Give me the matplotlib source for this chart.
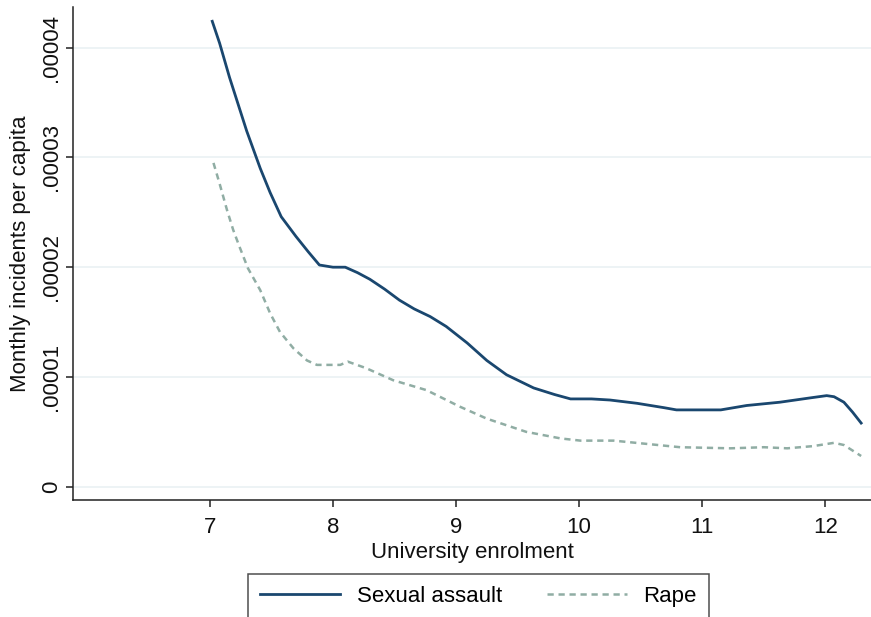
import matplotlib
matplotlib.use("Agg")
import matplotlib.pyplot as plt
from matplotlib.lines import Line2D

# Monthly incidents per capita (x1e-5) against university enrolment
sa_x = [7.02, 7.08, 7.16, 7.30, 7.41, 7.49, 7.58, 7.70, 7.80, 7.89, 8.00, 8.10,
        8.20, 8.30, 8.42, 8.54, 8.66, 8.79, 8.92, 9.09, 9.25, 9.41, 9.63, 9.80,
        9.93, 10.10, 10.25, 10.47, 10.69, 10.79, 11.00, 11.15, 11.36, 11.63,
        11.88, 12.01, 12.07, 12.15, 12.22, 12.29]
sa_y = [4.24, 4.04, 3.73, 3.24, 2.90, 2.68, 2.46, 2.28, 2.14, 2.02, 2.00, 2.00,
        1.95, 1.89, 1.80, 1.70, 1.62, 1.55, 1.46, 1.31, 1.15, 1.02, 0.90, 0.84,
        0.80, 0.80, 0.79, 0.76, 0.72, 0.70, 0.70, 0.70, 0.74, 0.77,
        0.81, 0.83, 0.82, 0.77, 0.68, 0.58]

rape_x = [7.03, 7.08, 7.14, 7.19, 7.24, 7.31, 7.41, 7.49, 7.57, 7.68, 7.79,
          7.87, 7.96, 8.06, 8.12, 8.27, 8.49, 8.76, 9.03, 9.25, 9.57, 9.85,
          10.01, 10.28, 10.55, 10.82, 11.23, 11.50, 11.69, 11.90, 12.07,
          12.15, 12.29]
rape_y = [2.95, 2.76, 2.52, 2.34, 2.19, 1.99, 1.79, 1.58, 1.41, 1.26, 1.15,
          1.11, 1.11, 1.11, 1.14, 1.08, 0.97, 0.88, 0.73, 0.62, 0.50, 0.44,
          0.42, 0.42, 0.39, 0.36, 0.35, 0.36, 0.35, 0.37, 0.40,
          0.38, 0.28]

x_ticks = [7, 8, 9, 10, 11, 12]
y_ticks = [0, 1, 2, 3, 4]
y_tick_labels = ["0", ".00001", ".00002", ".00003", ".00004"]
series_names = ["Sexual assault", "Rape"]

SCALE = 1e-5
NAVY = "#1a476f"
SAGE = "#90ada4"
GRID = "#eaf1f3"
FS = 16

plt.rcParams["font.family"] = ["Liberation Sans", "DejaVu Sans"]

fig = plt.figure(figsize=(8.71, 6.17), dpi=100)
ax = fig.add_axes([0.0838, 0.1896, 0.9162, 0.7990])

ax.plot(sa_x, [v * SCALE for v in sa_y], color=NAVY, lw=2.0,
        solid_joinstyle="round", label=series_names[0])
ax.plot(rape_x, [v * SCALE for v in rape_y], color=SAGE, lw=1.8,
        dashes=(2.5, 1.9), label=series_names[1])

ax.set_xlim(5.889, 12.37)
ax.set_ylim(-0.121 * SCALE, 4.37 * SCALE)

ax.set_xticks(x_ticks)
ax.set_xticklabels([str(t) for t in x_ticks])
ax.set_yticks([t * SCALE for t in y_ticks])
ax.set_yticklabels(y_tick_labels, rotation=90, va="center")

ax.grid(axis="y", color=GRID, lw=1.2)
ax.set_axisbelow(True)
for side in ("top", "right"):
    ax.spines[side].set_visible(False)
for side in ("left", "bottom"):
    ax.spines[side].set_color("#222222")
    ax.spines[side].set_linewidth(1.1)

ax.tick_params(axis="both", direction="out", length=5, width=1.1,
               color="#222222", labelsize=FS, labelcolor="#111111")
ax.tick_params(axis="x", pad=7)
ax.tick_params(axis="y", pad=3)

ax.set_xlabel("University enrolment", fontsize=FS, labelpad=3,
              color="#111111")
ax.set_ylabel("Monthly incidents per capita", fontsize=FS, labelpad=7,
              color="#111111")

handles = [Line2D([], [], color=NAVY, lw=2.0),
           Line2D([], [], color=SAGE, lw=1.8, dashes=(2.5, 1.9))]
leg = fig.legend(handles, series_names, loc="lower center",
                 bbox_to_anchor=(0.5494, -0.004), ncol=2, fontsize=FS,
                 frameon=True, fancybox=False, edgecolor="#222222",
                 handlelength=3.6, handletextpad=0.75, columnspacing=2.0,
                 borderpad=0.55, borderaxespad=0.0)
leg.get_frame().set_linewidth(1.1)

fig.savefig("out.png", dpi=100, facecolor="white")
